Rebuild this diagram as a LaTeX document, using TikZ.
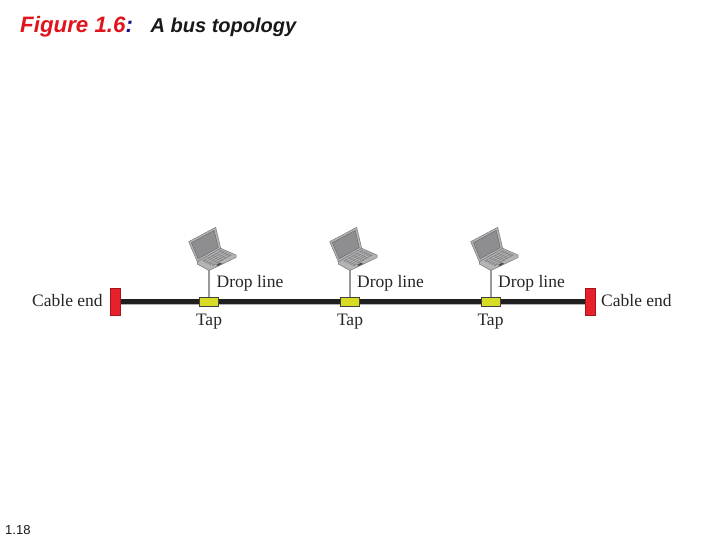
\documentclass[tikz,border=0pt]{standalone}
\usepackage{fontspec}
\setmainfont{Liberation Serif}
\newfontfamily\hfont{Liberation Sans}
\usetikzlibrary{calc}
\definecolor{capred}{HTML}{E8202C}
\definecolor{tapy}{HTML}{D9DC24}
\definecolor{lapdark}{HTML}{77777A}
\definecolor{lapmid}{HTML}{B4B4B6}
\definecolor{lapscreen}{HTML}{8E8E90}
\definecolor{lapkeys}{HTML}{8A8A8C}
\definecolor{titlered}{HTML}{E0141C}
\definecolor{titleblue}{HTML}{14147A}
\tikzset{
  lbl/.style={font=\fontsize{17.5}{19}\selectfont,text=black!85,inner sep=0pt},
  capbox/.style={draw=capred!70!black,line width=.5pt,fill=capred,minimum width=9.5pt,minimum height=27pt,inner sep=0pt},
  tapbox/.style={draw=black!75,line width=.5pt,fill=tapy,minimum width=19pt,minimum height=9pt,inner sep=0pt},
  bus/.style={line width=4.2pt,draw=black!88},
  busshadow/.style={line width=1.4pt,draw=black!30},
  dropline/.style={line width=1.6pt,draw=black!40},
  laptop/.pic={
    \fill[lapmid,draw=lapdark,line width=.5pt] (-11.7,-8.3) -- (11.7,-21.7) -- (27,-15) -- (27,-12.5) -- (1,0) -- (-1,0) -- (-11.7,-6) -- cycle;
    \fill[lapkeys] (-7,-9) -- (12,-20) -- (23,-15) -- (4,-4) -- cycle;
    \foreach \t in {.2,.4,.6,.8}{
      \draw[white!75!black,line width=.35pt] ($(-7,-9)!\t!(4,-4)$) -- ($(12,-20)!\t!(23,-15)$);
      \draw[white!75!black,line width=.35pt] ($(-7,-9)!\t!(12,-20)$) -- ($(4,-4)!\t!(23,-15)$);
    }
    \fill[black!70] (7,-5) -- (11,-7.3) -- (13,-6.3) -- (9,-4) -- cycle;
    \fill[lapmid,draw=lapdark,line width=.5pt] (-20.3,-28.3) -- (6.7,-42.7) -- (11.7,-21.7) -- (-11.7,-8.3) -- cycle;
    \fill[lapscreen,draw=black!60,line width=.4pt] (-17.6,-27.3) -- (5.2,-39.6) -- (9.2,-22.4) -- (-10.8,-11.2) -- cycle;
  }
}
\begin{document}
\begin{tikzpicture}[x=1pt,y=-1pt]
\useasboundingbox (0,0) rectangle (720,540);
\fill[white] (0,0) rectangle (720,540);
\node[anchor=base west,inner sep=0pt,font=\hfont\bfseries\itshape\fontsize{22.3}{24}\selectfont,text=titlered] (title) at (20,33) {Figure 1.6\textcolor{titleblue}{:}};
\node[anchor=base west,inner sep=0pt,font=\hfont\bfseries\itshape\fontsize{20}{22}\selectfont,text=black!90] (subtitle) at (150.5,33) {A bus topology};
\node[anchor=base west,inner sep=0pt,font=\hfont\fontsize{13}{14}\selectfont,text=black!90] (page) at (5,534) {1.18};

\node[capbox] (endL) at (115,301.5) {};
\node[capbox] (endR) at (590,301.5) {};
\node[tapbox] (tapA) at (208.5,301.5) {};
\node[tapbox] (tapB) at (349.5,301.5) {};
\node[tapbox] (tapC) at (490.5,301.5) {};
\coordinate (lapA) at (209,270);
\coordinate (lapB) at (350,270);
\coordinate (lapC) at (491,270);

\draw[busshadow] ([yshift=-2.6pt]endL.east) -- ([yshift=-2.6pt]endR.west);
\draw[bus] (endL.east) -- (endR.west);
\node[capbox] at (endL) {};
\node[capbox] at (endR) {};
\draw[dropline] (lapA) -- (lapA |- tapA.north);
\draw[dropline] (lapB) -- (lapB |- tapB.north);
\draw[dropline] (lapC) -- (lapC |- tapC.north);
\node[tapbox] at (tapA) {};
\node[tapbox] at (tapB) {};
\node[tapbox] at (tapC) {};
\pic at (lapA) {laptop};
\pic at (lapB) {laptop};
\pic at (lapC) {laptop};

\node[lbl,anchor=base west] (cL) at (32,306.5) {Cable end};
\node[lbl,anchor=base west] (cR) at (601,306.5) {Cable end};
\node[lbl,anchor=base west] (dA) at (216.5,287) {Drop line};
\node[lbl,anchor=base west] (dB) at (357,287) {Drop line};
\node[lbl,anchor=base west] (dC) at (498,287) {Drop line};
\node[lbl,anchor=base] (tA) at (209,325) {Tap};
\node[lbl,anchor=base] (tB) at (350,325) {Tap};
\node[lbl,anchor=base] (tC) at (490.5,325) {Tap};
\end{tikzpicture}
\end{document}
